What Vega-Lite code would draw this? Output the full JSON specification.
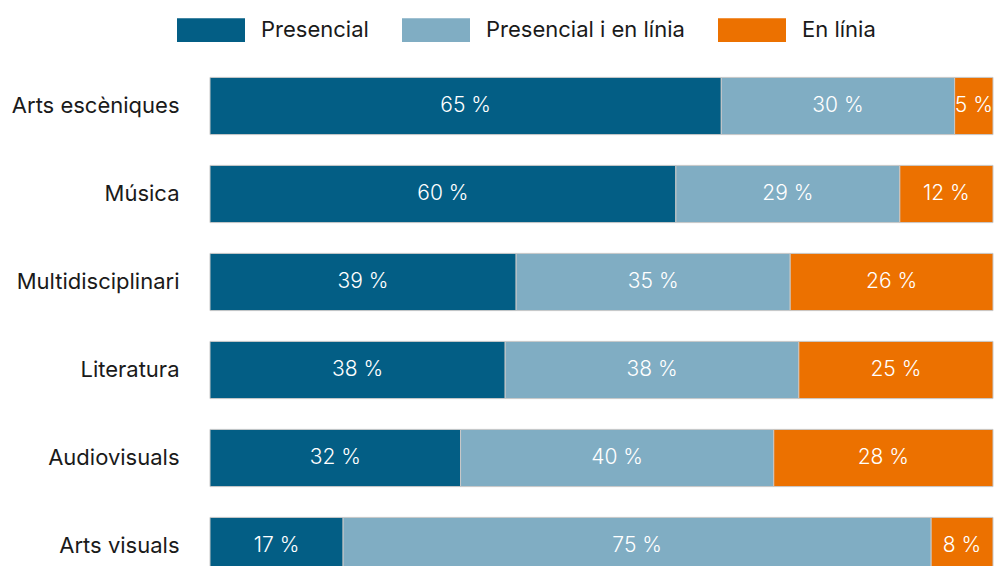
{
  "$schema": "https://vega.github.io/schema/vega-lite/v6.json",
  "width": 783,
  "height": 528,
  "padding": {"left": 11, "top": -4, "right": 0, "bottom": 0},
  "background": "white",
  "config": {"view": {"stroke": null}, "font": "Inter"},
  "data": {
    "values": [
      {"cat": "Arts escèniques", "tipus": "Presencial", "ord": 1, "v": 65.3, "label": "65 %"},
      {"cat": "Arts escèniques", "tipus": "Presencial i en línia", "ord": 2, "v": 29.8, "label": "30 %"},
      {"cat": "Arts escèniques", "tipus": "En línia", "ord": 3, "v": 4.9, "label": "5 %"},
      {"cat": "Música", "tipus": "Presencial", "ord": 1, "v": 59.5, "label": "60 %"},
      {"cat": "Música", "tipus": "Presencial i en línia", "ord": 2, "v": 28.6, "label": "29 %"},
      {"cat": "Música", "tipus": "En línia", "ord": 3, "v": 11.9, "label": "12 %"},
      {"cat": "Multidisciplinari", "tipus": "Presencial", "ord": 1, "v": 39.1, "label": "39 %"},
      {"cat": "Multidisciplinari", "tipus": "Presencial i en línia", "ord": 2, "v": 35.0, "label": "35 %"},
      {"cat": "Multidisciplinari", "tipus": "En línia", "ord": 3, "v": 25.9, "label": "26 %"},
      {"cat": "Literatura", "tipus": "Presencial", "ord": 1, "v": 37.7, "label": "38 %"},
      {"cat": "Literatura", "tipus": "Presencial i en línia", "ord": 2, "v": 37.5, "label": "38 %"},
      {"cat": "Literatura", "tipus": "En línia", "ord": 3, "v": 24.8, "label": "25 %"},
      {"cat": "Audiovisuals", "tipus": "Presencial", "ord": 1, "v": 32.0, "label": "32 %"},
      {"cat": "Audiovisuals", "tipus": "Presencial i en línia", "ord": 2, "v": 40.0, "label": "40 %"},
      {"cat": "Audiovisuals", "tipus": "En línia", "ord": 3, "v": 28.0, "label": "28 %"},
      {"cat": "Arts visuals", "tipus": "Presencial", "ord": 1, "v": 17.0, "label": "17 %"},
      {"cat": "Arts visuals", "tipus": "Presencial i en línia", "ord": 2, "v": 75.1, "label": "75 %"},
      {"cat": "Arts visuals", "tipus": "En línia", "ord": 3, "v": 7.9, "label": "8 %"}
    ]
  },
  "transform": [
    {"stack": "v", "groupby": ["cat"], "sort": [{"field": "ord", "order": "ascending"}], "as": ["v0", "v1"]},
    {"calculate": "(datum.v0 + datum.v1) / 2", "as": "mid"}
  ],
  "encoding": {
    "y": {
      "field": "cat",
      "type": "nominal",
      "sort": ["Arts escèniques", "Música", "Multidisciplinari", "Literatura", "Audiovisuals", "Arts visuals"],
      "scale": {"paddingInner": 0.35, "paddingOuter": 0.175},
      "axis": {
        "title": null,
        "ticks": false,
        "domain": false,
        "labelFontSize": 22,
        "labelColor": "#1a1a1a",
        "labelPadding": 31,
        "labelFont": "Inter"
      }
    }
  },
  "layer": [
    {
      "mark": {"type": "bar", "stroke": "#c8c8c8", "strokeWidth": 1},
      "encoding": {
        "x": {"field": "v0", "type": "quantitative", "scale": {"domain": [0, 100], "nice": false}, "axis": null},
        "x2": {"field": "v1"},
        "color": {
          "field": "tipus",
          "type": "nominal",
          "scale": {
            "domain": ["Presencial", "Presencial i en línia", "En línia"],
            "range": ["#035e85", "#80adc3", "#ec7100"]
          },
          "legend": {
            "title": null,
            "orient": "none",
            "direction": "horizontal",
            "legendX": -33,
            "legendY": -66,
            "symbolType": "M-1,-0.35L1,-0.35L1,0.35L-1,0.35Z",
            "symbolSize": 4624,
            "symbolStrokeWidth": 0,
            "symbolOpacity": 1,
            "labelFontSize": 22,
            "labelColor": "#1a1a1a",
            "labelFont": "Inter",
            "labelOffset": 16,
            "labelLimit": 400,
            "columnPadding": 33,
            "encode": {
              "symbols": {
                "update": {
                  "fill": {"signal": "datum.value === 'Presencial i en línia' ? '#9bbfcf' : datum.value === 'Presencial' ? '#035e85' : '#ec7100'"}
                }
              }
            }
          }
        }
      }
    },
    {
      "mark": {"type": "text", "color": "white", "fontSize": 21, "fontWeight": 300, "font": "Inter"},
      "encoding": {
        "x": {"field": "mid", "type": "quantitative"},
        "text": {"field": "label"}
      }
    }
  ]
}
